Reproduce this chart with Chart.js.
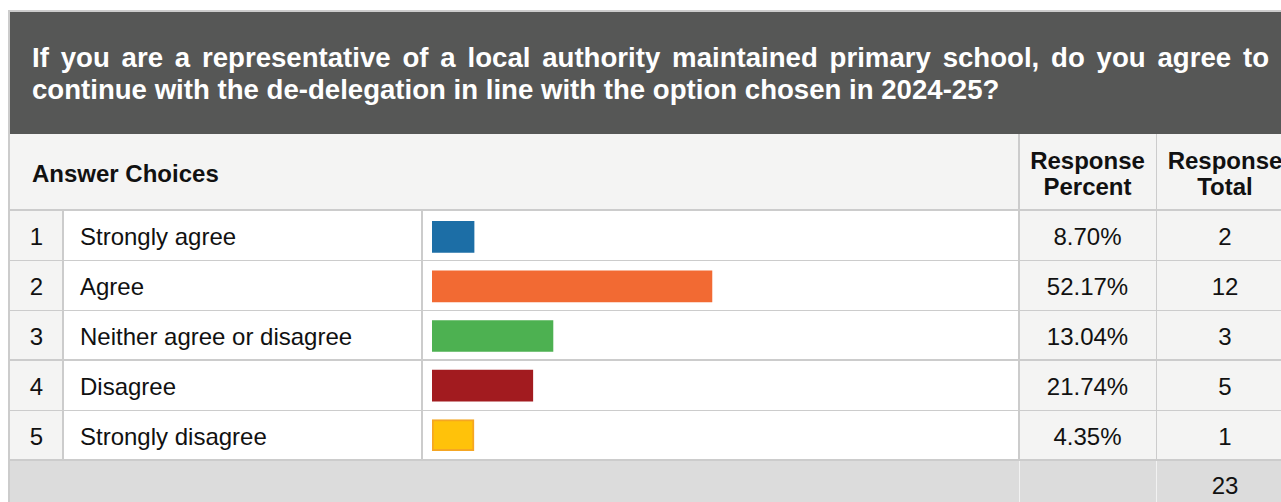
<!DOCTYPE html>
<html>
<head>
<meta charset="utf-8">
<script src="https://cdn.jsdelivr.net/npm/chart.js@4.4.0/dist/chart.umd.min.js"></script>
<style>
    body { margin: 0; background: #fff; font-family: "Liberation Sans", Arial, sans-serif; overflow: hidden; }
    #page { position: relative; width: 1281px; height: 502px; overflow: hidden; }
    .abs { position: absolute; box-sizing: border-box; }
    .txt { display: flex; align-items: center; color: #111; font-size: 24px; white-space: nowrap; padding-top: 4px; }
    .center { justify-content: center; text-align: center; }
    .bold { font-weight: bold; }
    #title { color: #fff; font-weight: bold; font-size: 27.6px; line-height: 32px; text-align: justify; text-align-last: left; }
</style>
</head>
<body>
<div id="page">
    <div id="barBox" class="abs" style="left:422px; top:210px; width:596px; height:250px; z-index:5;">
        <canvas id="choiceChart"></canvas>
    </div>
</div>

<script>
const question = 'If you are a representative of a local authority maintained primary school, do you agree to continue with the de-delegation in line with the option chosen in 2024-25?';
const choices = ['Strongly agree', 'Agree', 'Neither agree or disagree', 'Disagree', 'Strongly disagree'];
const responsePercent = ['8.70%', '52.17%', '13.04%', '21.74%', '4.35%'];
const responseTotal = [2, 12, 3, 5, 1];
const grandTotal = 23;
// bar lengths as drawn in the reference, in % of the bar track
const barLengths = [7.3, 48.6, 21.0, 17.5, 7.3];
const barColors = ['#1c6ea6', '#f26a33', '#4db151', '#a21b1f', '#ffc20a'];
const barBorders = ['#1c6ea6', '#f26a33', '#4db151', '#a21b1f', '#f5a623'];

const page = document.getElementById('page');

function box(x, y, w, h, style, text, cls) {
    const d = document.createElement('div');
    d.className = 'abs ' + (cls || '');
    d.style.cssText = `left:${x}px;top:${y}px;width:${w}px;height:${h}px;` + (style || '');
    if (text !== undefined) d.innerHTML = text;
    page.appendChild(d);
    return d;
}

// column edges
const cols = [10, 63, 422, 1018, 1157, 1293];
const rowTop = 210, rowH = 50;

// outer frame + dark question header
box(8, 10, 1300, 500, 'background:#ccc;');
box(10, 12, 1300, 122, 'background:#565756;');
const t = box(32, 42, 1237, 70, '', question);
t.id = 'title';

// column header row
box(10, 134, 1300, 76, 'background:#f4f4f3;');
box(32, 134, 400, 76, '', 'Answer Choices', 'txt bold');
box(cols[3], 134, cols[4] - cols[3], 76, 'line-height:26px;', 'Response<br>Percent', 'txt center bold');
box(cols[4], 134, cols[5] - cols[4], 76, 'line-height:26px;', 'Response<br>Total', 'txt center bold');

// answer rows
choices.forEach((c, i) => {
    const y = rowTop + i * rowH;
    box(cols[0], y, cols[1] - cols[0], rowH, 'background:#f4f4f3;', String(i + 1), 'txt center');
    box(cols[1], y, cols[3] - cols[1], rowH, 'background:#fff;');
    box(cols[1] + 17, y, 330, rowH, '', c, 'txt');
    box(cols[3], y, 300, rowH, 'background:#f4f4f3;');
    box(cols[3], y, cols[4] - cols[3], rowH, '', responsePercent[i], 'txt center');
    box(cols[4], y, cols[5] - cols[4], rowH, '', String(responseTotal[i]), 'txt center');
});

// footer total row
box(10, 460, 1300, 42, 'background:#dcdcdc;');
box(cols[4], 460, cols[5] - cols[4], 48, '', String(grandTotal), 'txt center');

// grid lines
const hLines = [[209, 2], [260, 1], [310, 1], [359, 2], [410, 1], [459, 2]];
hLines.forEach(([y, w]) => box(10, y, 1300, w, 'background:#ccc;'));
box(62, 210, 2, 250, 'background:#ccc;');
box(421, 210, 2, 250, 'background:#ccc;');
box(1018, 134, 2, 326, 'background:#ccc;');
box(1156, 134, 1, 326, 'background:#ccc;');
box(1019, 461, 1, 41, 'background:#f2f2f2;');
box(1156, 461, 1, 41, 'background:#f2f2f2;');

function initializeChoiceChart() {
    const ctx = document.getElementById('choiceChart')?.getContext('2d');
    if (!ctx) return;
    new Chart(ctx, {
        type: 'bar',
        data: {
            labels: choices,
            datasets: [{
                data: barLengths,
                backgroundColor: barColors,
                borderColor: barBorders,
                borderWidth: [0, 0, 0, 0, 2],
                borderSkipped: false,
                barThickness: 31
            }]
        },
        options: {
            indexAxis: 'y',
            responsive: true,
            maintainAspectRatio: false,
            animation: false,
            layout: { padding: { left: 10, right: 10, top: 2, bottom: 0 } },
            scales: {
                x: { display: false, min: 0, max: 100 },
                y: { display: false }
            },
            plugins: {
                legend: { display: false },
                tooltip: { enabled: false }
            }
        }
    });
}

initializeChoiceChart();
</script>
</body>
</html>
